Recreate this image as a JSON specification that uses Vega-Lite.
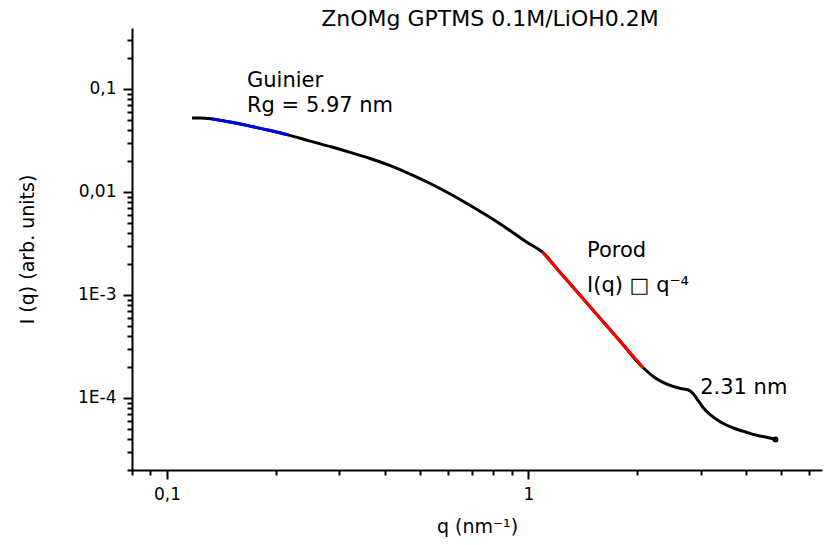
{
  "$schema": "https://vega.github.io/schema/vega-lite/v6.json",
  "width": 690,
  "height": 442,
  "autosize": "none",
  "padding": {"left": 132, "top": 28, "right": 2, "bottom": 75},
  "background": "white",
  "title": {
    "text": "ZnOMg GPTMS 0.1M/LiOH0.2M",
    "font": "DejaVu Sans",
    "fontSize": 22,
    "fontWeight": "normal",
    "color": "black",
    "anchor": "middle",
    "dx": 13,
    "offset": -3
  },
  "config": {
    "font": "DejaVu Sans",
    "view": {"stroke": null},
    "axis": {
      "grid": false,
      "ticks": true,
      "domainColor": "black",
      "domainWidth": 2,
      "tickColor": "black",
      "tickWidth": 2,
      "tickOpacity": 1,
      "labelColor": "black",
      "labelFont": "DejaVu Sans",
      "labelFontSize": 17,
      "labelPadding": 7,
      "titleColor": "black",
      "titleFont": "DejaVu Sans",
      "titleFontSize": 19,
      "titleFontWeight": "normal",
      "labelOverlap": false,
      "labelFlush": false
    }
  },
  "resolve": {"axis": {"x": "independent", "y": "independent"}},
  "datasets": {
    "curve": [
      {"q": 0.11729, "I": 0.052309, "series": "data"},
      {"q": 0.12343, "I": 0.052309, "series": "data"},
      {"q": 0.13321, "I": 0.051153, "series": "data"},
      {"q": 0.14946, "I": 0.047615, "series": "data"},
      {"q": 0.16978, "I": 0.043530, "series": "data"},
      {"q": 0.19287, "I": 0.039458, "series": "data"},
      {"q": 0.21637, "I": 0.035762, "series": "data"},
      {"q": 0.24890, "I": 0.031128, "series": "data"},
      {"q": 0.28276, "I": 0.027588, "series": "data"},
      {"q": 0.32122, "I": 0.024231, "series": "data"},
      {"q": 0.36490, "I": 0.021094, "series": "data"},
      {"q": 0.41470, "I": 0.017970, "series": "data"},
      {"q": 0.47113, "I": 0.014889, "series": "data"},
      {"q": 0.53528, "I": 0.012067, "series": "data"},
      {"q": 0.60808, "I": 0.0095412, "series": "data"},
      {"q": 0.69084, "I": 0.0073788, "series": "data"},
      {"q": 0.83636, "I": 0.0048898, "series": "data"},
      {"q": 0.99364, "I": 0.0032264, "series": "data"},
      {"q": 1.0934, "I": 0.0026156, "series": "data"},
      {"q": 1.2266, "I": 0.0016462, "series": "data"},
      {"q": 1.3932, "I": 0.00098667, "series": "data"},
      {"q": 1.5830, "I": 0.00058983, "series": "data"},
      {"q": 1.7984, "I": 0.00035274, "series": "data"},
      {"q": 2.0826, "I": 0.00019552, "series": "data"},
      {"q": 2.2475, "I": 0.00015637, "series": "data"},
      {"q": 2.4270, "I": 0.00013524, "series": "data"},
      {"q": 2.6377, "I": 0.00012367, "series": "data"},
      {"q": 2.7750, "I": 0.00011959, "series": "data"},
      {"q": 2.8650, "I": 0.00010935, "series": "data"},
      {"q": 2.9577, "I": 0.000093514, "series": "data"},
      {"q": 3.0533, "I": 0.000079967, "series": "data"},
      {"q": 3.1926, "I": 0.000068384, "series": "data"},
      {"q": 3.4029, "I": 0.000058479, "series": "data"},
      {"q": 3.6980, "I": 0.000051153, "series": "data"},
      {"q": 3.9921, "I": 0.000046773, "series": "data"},
      {"q": 4.3085, "I": 0.000043251, "series": "data"},
      {"q": 4.5921, "I": 0.000041358, "series": "data"},
      {"q": 4.8323, "I": 0.000039546, "series": "data"},
      {"q": 0.13321, "I": 0.051153, "series": "Guinier"},
      {"q": 0.14946, "I": 0.047615, "series": "Guinier"},
      {"q": 0.16978, "I": 0.043530, "series": "Guinier"},
      {"q": 0.19287, "I": 0.039458, "series": "Guinier"},
      {"q": 0.21637, "I": 0.035762, "series": "Guinier"},
      {"q": 1.0934, "I": 0.0026156, "series": "Porod"},
      {"q": 1.2266, "I": 0.0016462, "series": "Porod"},
      {"q": 1.3932, "I": 0.00098667, "series": "Porod"},
      {"q": 1.5830, "I": 0.00058983, "series": "Porod"},
      {"q": 1.7984, "I": 0.00035274, "series": "Porod"},
      {"q": 2.0826, "I": 0.00019552, "series": "Porod"}
    ],
    "labels": [
      {"q": 0.1665, "I": 0.10458, "text": "Guinier"},
      {"q": 0.1665, "I": 0.05975, "text": "Rg = 5.97 nm"},
      {"q": 1.454, "I": 0.002321, "text": "Porod"},
      {"q": 1.454, "I": 0.0010599, "text": "I(q) □ q⁻⁴"},
      {"q": 2.990, "I": 0.00011036, "text": "2.31 nm"}
    ]
  },
  "layer": [
    {
      "data": {"name": "curve"},
      "transform": [{"filter": "datum.series == 'data'"}],
      "mark": {"type": "line", "color": "black", "strokeWidth": 3, "interpolate": "monotone"},
      "encoding": {
        "x": {
          "field": "q",
          "type": "quantitative",
          "scale": {"type": "log", "domain": [0.08, 6.5], "nice": false},
          "axis": {
            "orient": "bottom",
            "title": "q (nm⁻¹)",
            "titlePadding": 15,
            "values": [0.1, 1],
            "tickSize": 9,
            "labelExpr": "datum.value == 0.1 ? '0,1' : '1'"
          }
        },
        "y": {
          "field": "I",
          "type": "quantitative",
          "scale": {"type": "log", "domain": [0.00002, 0.39], "nice": false},
          "axis": {
            "orient": "left",
            "title": "I (q) (arb. units)",
            "titlePadding": 40,
            "values": [0.0001, 0.001, 0.01, 0.1],
            "tickSize": 9,
            "labelExpr": "datum.value == 0.1 ? '0,1' : (datum.value == 0.01 ? '0,01' : (datum.value == 0.001 ? '1E-3' : '1E-4'))"
          }
        }
      }
    },
    {
      "data": {"name": "curve"},
      "transform": [{"filter": "datum.series != 'data'"}],
      "mark": {"type": "line", "strokeWidth": 3, "interpolate": "monotone"},
      "encoding": {
        "x": {
          "field": "q",
          "type": "quantitative",
          "axis": {
            "orient": "bottom",
            "title": null,
            "domain": false,
            "labels": false,
            "tickSize": 5,
            "values": [0.08, 0.09, 0.2, 0.3, 0.4, 0.5, 0.6, 0.7, 0.8, 0.9, 2, 3, 4, 5, 6]
          }
        },
        "y": {
          "field": "I",
          "type": "quantitative",
          "axis": {
            "orient": "left",
            "title": null,
            "domain": false,
            "labels": false,
            "tickSize": 5,
            "values": [0.00002, 0.00003, 0.00004, 0.00005, 0.00006, 0.00007, 0.00008, 0.00009, 0.0002, 0.0003, 0.0004, 0.0005, 0.0006, 0.0007, 0.0008, 0.0009, 0.002, 0.003, 0.004, 0.005, 0.006, 0.007, 0.008, 0.009, 0.02, 0.03, 0.04, 0.05, 0.06, 0.07, 0.08, 0.09, 0.2, 0.3]
          }
        },
        "color": {"field": "series", "type": "nominal", "scale": {"domain": ["Guinier", "Porod"], "range": ["#0000ff", "#ff0000"]}, "legend": null}
      }
    },
    {
      "data": {"name": "curve"},
      "transform": [{"filter": "datum.series == 'data' && datum.q > 4.8"}],
      "mark": {"type": "point", "filled": true, "color": "black", "size": 35, "opacity": 1},
      "encoding": {
        "x": {"field": "q", "type": "quantitative", "axis": null},
        "y": {"field": "I", "type": "quantitative", "axis": null}
      }
    },
    {
      "data": {"name": "labels"},
      "mark": {"type": "text", "align": "left", "baseline": "alphabetic", "fontSize": 21, "color": "black", "font": "DejaVu Sans"},
      "encoding": {
        "x": {"field": "q", "type": "quantitative", "axis": null},
        "y": {"field": "I", "type": "quantitative", "axis": null},
        "text": {"field": "text"}
      }
    }
  ]
}
